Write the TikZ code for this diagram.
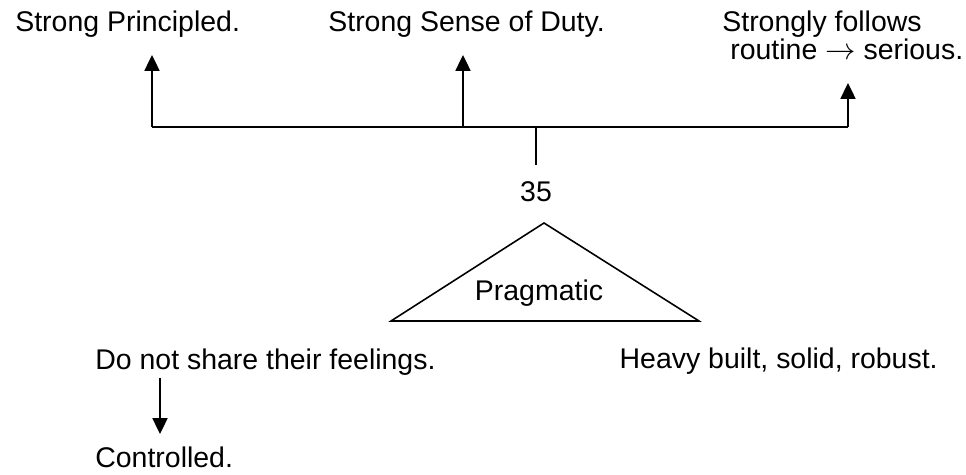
\documentclass[tikz,border=0pt]{standalone}
\usepackage{fontspec}
\setmainfont{Liberation Sans}
\usetikzlibrary{arrows.meta}
\tikzset{
	lbl/.style={inner sep=0pt, font=\fontsize{16.2}{16.5}\selectfont},
	up/.style={line width=1.1pt, -{Triangle[length=9pt, width=8.5pt]}}
}
\begin{document}
\begin{tikzpicture}[x=0.02cm, y=-0.02cm]
	\useasboundingbox (0,0) rectangle (966,475);
	\coordinate (p1) at (152,127);
	\coordinate (p2) at (463,127);
	\coordinate (p3) at (848,127);
	\coordinate (hub) at (536,127);
	\coordinate (t1) at (152,55);
	\coordinate (t2) at (463,55);
	\coordinate (t3) at (848,83);

	\node[lbl, anchor=base west] (princ) at (15,32) {Strong Principled.};
	\node[lbl, anchor=base west] (duty) at (328,32) {Strong Sense of Duty.};
	\node[lbl, anchor=base west, align=left] (rout) at (722,60)
		{Strongly follows\\\hspace{0.28em}routine $\rightarrow$ serious.};

	\draw[line width=1.1pt] (p1) -- (p3);
	\draw[up] (p1) -- (t1);
	\draw[up] (p2) -- (t2);
	\draw[up] (p3) -- (t3);

	% stem down to the number
	\draw[line width=0.9pt] (hub) -- (536,165) coordinate (stem);
	\node[lbl] (num) at (536,192) {35};

	% the triangle
	\coordinate (apex) at (544,223);
	\coordinate (bl) at (391,321);
	\coordinate (br) at (699,321);
	\draw[line width=0.9pt] (apex) -- (bl) -- (br) -- cycle;
	\node[lbl] (prag) at (539,293) {Pragmatic};

	\node[lbl, anchor=base west] (feel) at (95,370) {Do not share their feelings.};
	\node[lbl, anchor=base east] (heavy) at (938,369) {Heavy built, solid, robust.};
	\node[lbl, anchor=base west] (ctrl) at (95,468) {Controlled.};

	\coordinate (d1) at (160,378);
	\coordinate (d2) at (160,434);
	\draw[up] (d1) -- (d2);
\end{tikzpicture}
\end{document}
